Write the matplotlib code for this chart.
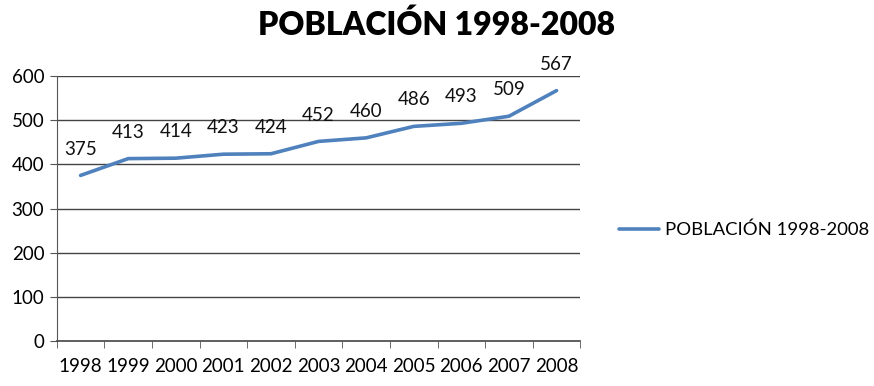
import matplotlib
matplotlib.use("Agg")
import matplotlib.pyplot as plt

years = ["1998", "1999", "2000", "2001", "2002", "2003", "2004", "2005", "2006", "2007", "2008"]
values = [375, 413, 414, 423, 424, 452, 460, 486, 493, 509, 567]
series_name = "POBLACIÓN 1998-2008"
title = "POBLACIÓN 1998-2008"
yticks = [0, 100, 200, 300, 400, 500, 600]

plt.rcParams['font.family'] = ['Lato', 'DejaVu Sans']

fig = plt.figure(figsize=(8.74, 3.86), dpi=100)
ax = fig.add_axes([0.065, 0.1166, 0.599, 0.6864])

x = list(range(len(years)))
ax.plot(x, values, color="#4F81BD", lw=2.6, label=series_name, solid_capstyle="round")
for xi, v in zip(x, values):
    ax.annotate(str(v), (xi, v), xytext=(0, 19), textcoords="offset points",
                ha="center", va="center", fontsize=13.5, color="#111111")

ax.set_xlim(-0.5, len(years) - 0.5)
ax.set_ylim(0, 600)
ax.set_yticks(yticks)
ax.set_yticklabels([str(t) for t in yticks], fontsize=13.5)
ax.set_xticks(x)
ax.set_xticklabels(years, fontsize=13.5)
ax.set_xticks([i - 0.5 for i in range(len(years) + 1)], minor=True)
ax.tick_params(axis="x", which="major", length=0, pad=12)
ax.tick_params(axis="x", which="minor", length=5, color="#555555", direction="out")
ax.tick_params(axis="y", length=5, color="#555555", pad=4)
for t in yticks[1:]:
    ax.axhline(t, color="#444444", lw=1.0, zorder=0)
for s in ["top", "right"]:
    ax.spines[s].set_visible(False)
ax.spines["left"].set_color("#555555")
ax.spines["bottom"].set_color("#444444")
ax.spines["bottom"].set_linewidth(1.2)

fig.text(0.5, 0.935, title, ha="center", va="center", fontsize=23, fontweight="heavy")
fig.legend(loc="center left", bbox_to_anchor=(0.708, 0.404), frameon=False,
           fontsize=13.3, handlelength=2.2, handletextpad=0.3,
           borderpad=0, borderaxespad=0)

fig.savefig("out.png", dpi=100)
